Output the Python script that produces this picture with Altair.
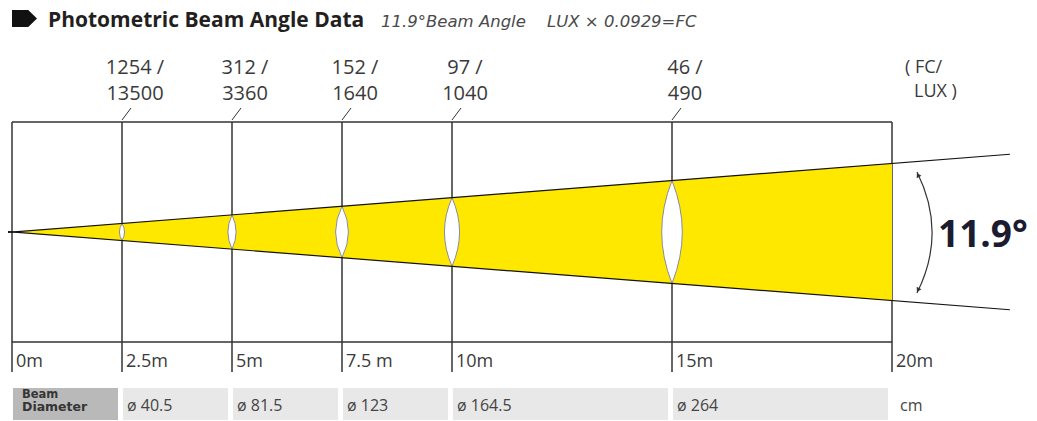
import math
import altair as alt
import pandas as pd

# ---------------- data ----------------
TITLE = "Photometric Beam Angle Data"
SUBTITLE = ["11.9°Beam Angle", "LUX × 0.0929=FC"]
BEAM_ANGLE = 11.9
ANGLE_LABEL = "11.9°"

DIST = [0, 2.5, 5, 7.5, 10, 15, 20]
DIST_LABELS = ["0m", "2.5m", "5m", "7.5 m", "10m", "15m", "20m"]

MEAS_D = [2.5, 5, 7.5, 10, 15]
FC = [1254, 312, 152, 97, 46]
LUX = [13500, 3360, 1640, 1040, 490]
DIAM = ["40.5", "81.5", "123", "164.5", "264"]
LENS_RATIO = [0.30, 0.24, 0.25, 0.22, 0.20]

UNIT_TOP = ["( FC/", "LUX )"]
UNIT_DIAM = "cm"
DIAM_HEADER = ["Beam", "Diameter"]

# ---------------- layout ----------------
W, H = 1021, 413
PX_X = 44.0      # px per metre along the throw
X0 = 4.0         # px position of 0 m
PX_Y = 32.9      # px per metre across the beam
Y0 = 224.0       # px position of beam axis
FRAME_HALF = 110 / PX_Y
END_D = 22.68

xs = alt.Scale(domain=[-X0 / PX_X, (W - X0) / PX_X], nice=False, zero=False)
ys = alt.Scale(domain=[-(H - Y0) / PX_Y, Y0 / PX_Y], nice=False, zero=False)

t = math.tan(math.radians(BEAM_ANGLE / 2))
YELLOW = "#FFE800"
LINE = "#333333"
FONT = "Open Sans"


def X(f):
    return alt.X(f, type="quantitative", scale=xs, axis=None)


def Y(f):
    return alt.Y(f, type="quantitative", scale=ys, axis=None)


# vertical distance lines
vl_df = pd.DataFrame({"d": DIST, "lab": DIST_LABELS})
vlines = alt.Chart(vl_df).mark_rule(color=LINE, strokeWidth=1.5).encode(
    x=X("d"), y=alt.value(114), y2=alt.value(364)
)

# frame top / bottom
fr_df = pd.DataFrame({"a": [0, 0], "b": [20, 20], "y": [FRAME_HALF, -FRAME_HALF]})
frame = alt.Chart(fr_df).mark_rule(color=LINE, strokeWidth=1.5).encode(
    x=X("a"), x2="b", y=Y("y")
)

# beam fill
beam_df = pd.DataFrame({"d": [0, 20], "top": [0, 20 * t], "bot": [0, -20 * t]})
beam = alt.Chart(beam_df).mark_area(color=YELLOW, opacity=1).encode(
    x=X("d"), y=Y("top"), y2="bot"
)

# lenses
def lens_path(r):
    return f"M0,-1 Q{2*r:.3f},0 0,1 Q{-2*r:.3f},0 0,-1 Z"

lens_df = pd.DataFrame({
    "d": MEAS_D,
    "yc": [0] * len(MEAS_D),
    "path": [lens_path(r) for r in LENS_RATIO],
    "sz": [(2 * d * t * PX_Y) ** 2 for d in MEAS_D],
})
lenses = alt.Chart(lens_df).mark_point(
    filled=True, fill="white", stroke="#8a8aa6", strokeWidth=1, opacity=1
).encode(
    x=X("d"), y=Y("yc"),
    shape=alt.Shape("path:N", scale=None),
    size=alt.Size("sz:Q", scale=None),
)

# beam edge lines
edge_df = pd.DataFrame({
    "d": [-0.2, END_D, -0.2, END_D],
    "y": [-0.2 * t, END_D * t, 0.2 * t, -END_D * t],
    "side": ["u", "u", "l", "l"],
})
edges = alt.Chart(edge_df).mark_line(color="#111111", strokeWidth=1.2).encode(
    x=X("d"), y=Y("y"), detail="side:N"
)

# slash ticks above frame
sl_df = pd.DataFrame({"d": MEAS_D, "d2": [d + 9 / PX_X for d in MEAS_D]})
slashes = alt.Chart(sl_df).mark_rule(color=LINE, strokeWidth=1).encode(
    x=X("d"), x2="d2", y=alt.value(112), y2=alt.value(100)
)

# top labels
lab_df = pd.DataFrame({
    "d": MEAS_D,
    "l1": [f"{v} /" for v in FC],
    "l2": [str(v) for v in LUX],
})
lab1 = alt.Chart(lab_df).mark_text(font=FONT, fontSize=20, color="#3a3a3a", dx=13,
                                   align="center", baseline="alphabetic").encode(
    x=X("d"), y=alt.value(66), text="l1:N")
lab2 = alt.Chart(lab_df).mark_text(font=FONT, fontSize=20, color="#3a3a3a", dx=13,
                                   align="center", baseline="alphabetic").encode(
    x=X("d"), y=alt.value(92), text="l2:N")

unit1 = alt.Chart(pd.DataFrame({"t": [UNIT_TOP[0]]})).mark_text(
    font=FONT, fontSize=18, color="#3a3a3a", align="left", baseline="alphabetic"
).encode(x=alt.value(897), y=alt.value(65), text="t:N")
unit2 = alt.Chart(pd.DataFrame({"t": [UNIT_TOP[1]]})).mark_text(
    font=FONT, fontSize=18, color="#3a3a3a", align="left", baseline="alphabetic"
).encode(x=alt.value(906), y=alt.value(89), text="t:N")

# distance labels
dlab = alt.Chart(vl_df).mark_text(font=FONT, fontSize=18, color="#3a3a3a", dx=4,
                                  align="left", baseline="alphabetic").encode(
    x=X("d"), y=alt.value(359), text="lab:N")

# beam diameter band
cell_df = pd.DataFrame({
    "s": DIST[:-1],
    "e": DIST[1:],
    "fill": ["#b9b9b9"] + ["#e8e8e8"] * (len(DIST) - 2),
})
cells = alt.Chart(cell_df).mark_rect(x2Offset=-4, xOffset=1).encode(
    x=X("s"), x2="e", y=alt.value(380), y2=alt.value(412),
    color=alt.Color("fill:N", scale=None),
)
diam_df = pd.DataFrame({"d": MEAS_D, "t": [f"ø {v}" for v in DIAM]})
diam = alt.Chart(diam_df).mark_text(font=FONT, fontSize=16, color="#444444", dx=5,
                                    align="left", baseline="alphabetic").encode(
    x=X("d"), y=alt.value(403), text="t:N")
cm = alt.Chart(pd.DataFrame({"d": [20], "t": [UNIT_DIAM]})).mark_text(
    font=FONT, fontSize=16, color="#444444", dx=8, align="left", baseline="alphabetic"
).encode(x=X("d"), y=alt.value(403), text="t:N")
hdr1 = alt.Chart(pd.DataFrame({"t": [DIAM_HEADER[0]]})).mark_text(
    font="DejaVu Sans", fontWeight="bold", fontSize=11.5, color="#353535",
    align="left", baseline="alphabetic"
).encode(x=alt.value(14), y=alt.value(390), text="t:N")
hdr2 = alt.Chart(pd.DataFrame({"t": [DIAM_HEADER[1]]})).mark_text(
    font="DejaVu Sans", fontWeight="bold", fontSize=12.5, color="#353535",
    align="left", baseline="alphabetic"
).encode(x=alt.value(14), y=alt.value(403), text="t:N")

# title
icon = alt.Chart(pd.DataFrame({"t": [TITLE]})).mark_point(
    shape="M-1,-0.68 L0.3,-0.68 L1,0 L0.3,0.68 L-1,0.68 Z",
    filled=True, color="#111111", opacity=1, size=625
).encode(x=alt.value(16.5), y=alt.value(10.5))
title = alt.Chart(pd.DataFrame({"t": [TITLE]})).mark_text(
    font=FONT, fontWeight="bold", fontSize=21, color="#231f20",
    align="left", baseline="alphabetic"
).encode(x=alt.value(40), y=alt.value(19), text="t:N")
sub1 = alt.Chart(pd.DataFrame({"t": [SUBTITLE[0]]})).mark_text(
    font="DejaVu Sans", fontStyle="italic", fontSize=16.5, color="#4a4a4a",
    align="left", baseline="alphabetic"
).encode(x=alt.value(373), y=alt.value(19), text="t:N")
sub2 = alt.Chart(pd.DataFrame({"t": [SUBTITLE[1]]})).mark_text(
    font="DejaVu Sans", fontStyle="italic", fontSize=16.5, color="#4a4a4a",
    align="left", baseline="alphabetic"
).encode(x=alt.value(539), y=alt.value(19), text="t:N")

# angle arc
arc = alt.Chart(pd.DataFrame({"t": [ANGLE_LABEL]})).mark_point(
    shape="M0,-1 Q0.5,0 0,1", filled=False, stroke="#333333", strokeWidth=1.2,
    opacity=1, size=121 ** 2
).encode(x=alt.value(909), y=alt.value(224.5))
arrows = alt.Chart(pd.DataFrame({"ang": [333, 207], "py": [167, 282]})).mark_point(
    shape="triangle-up", filled=True, color="#333333", opacity=1, size=28
).encode(x=alt.value(910), y=alt.Y("py:Q", scale=None), angle=alt.Angle("ang:Q", scale=None))
angle_txt = alt.Chart(pd.DataFrame({"t": [ANGLE_LABEL]})).mark_text(
    font=FONT, fontWeight="bold", fontSize=37, color="#1c1c30",
    align="left", baseline="alphabetic"
).encode(x=alt.value(930), y=alt.value(239), text="t:N")

chart = alt.layer(
    vlines, frame, beam, lenses, edges, slashes, lab1, lab2, unit1, unit2, dlab,
    cells, diam, cm, hdr1, hdr2, icon, title, sub1, sub2, arc, arrows, angle_txt
).properties(
    width=W, height=H, padding=0, autosize=alt.AutoSizeParams(type="none")
).configure_view(stroke=None)

chart.save("out.html", embed_options={"renderer": "svg", "actions": False})
